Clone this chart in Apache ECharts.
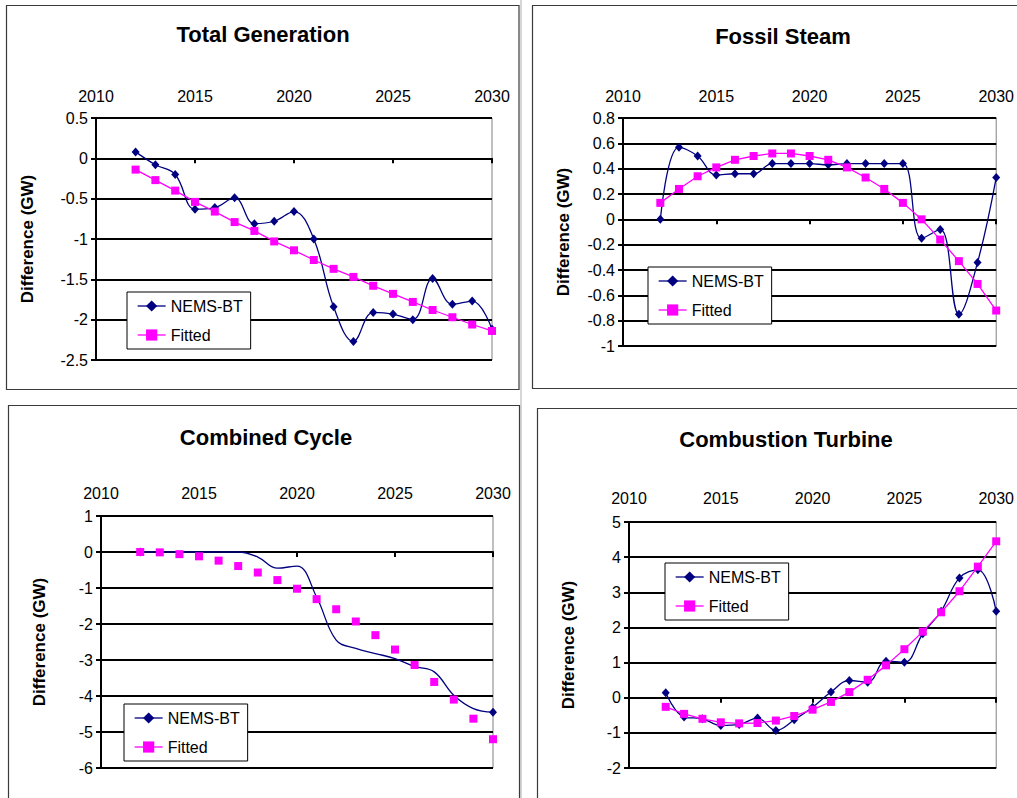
<!DOCTYPE html>
<html>
<head>
<meta charset="utf-8">
<script src="https://cdn.jsdelivr.net/npm/echarts@6/dist/echarts.min.js"></script>
<style>
  html, body { margin: 0; padding: 0; background: #fff; }
  #chart { width: 1017px; height: 798px; }
</style>
</head>
<body>
<div id="chart"></div>
<script>
// Years on the horizontal axis
const years = [2012, 2013, 2014, 2015, 2016, 2017, 2018, 2019, 2020, 2021,
               2022, 2023, 2024, 2025, 2026, 2027, 2028, 2029, 2030];
const xTicks = [2010, 2015, 2020, 2025, 2030];

// Total Generation (GW difference)
const totalNems = [0.08, -0.08, -0.20, -0.63, -0.61, -0.49, -0.81, -0.78, -0.66, -1.00,
                   -1.84, -2.27, -1.91, -1.93, -2.00, -1.49, -1.81, -1.77, -2.12];
const totalFit  = [-0.14, -0.27, -0.40, -0.54, -0.66, -0.79, -0.90, -1.03, -1.14, -1.26,
                   -1.37, -1.47, -1.58, -1.68, -1.78, -1.88, -1.97, -2.06, -2.14];

// Fossil Steam
const fossilNems = [0.00, 0.57, 0.50, 0.35, 0.36, 0.36, 0.44, 0.44, 0.44, 0.43,
                    0.44, 0.44, 0.44, 0.44, -0.15, -0.08, -0.75, -0.34, 0.33];
const fossilFit  = [0.13, 0.24, 0.34, 0.41, 0.47, 0.50, 0.52, 0.52, 0.50, 0.47,
                    0.41, 0.33, 0.24, 0.13, 0.00, -0.16, -0.33, -0.51, -0.72];

// Combined Cycle
const ccNems = [0.00, 0.00, 0.00, 0.00, 0.00, 0.00, -0.14, -0.45, -0.39, -1.25,
                -2.45, -2.68, -2.82, -2.96, -3.18, -3.33, -3.98, -4.35, -4.45];
const ccFit  = [0.00, -0.01, -0.06, -0.12, -0.24, -0.39, -0.57, -0.78, -1.02, -1.31,
                -1.59, -1.93, -2.31, -2.71, -3.14, -3.61, -4.10, -4.63, -5.20];

// Combustion Turbine
const ctNems = [0.14, -0.55, -0.60, -0.79, -0.76, -0.58, -0.93, -0.63, -0.27, 0.16,
                0.49, 0.44, 1.04, 1.01, 1.82, 2.46, 3.41, 3.64, 2.46];
const ctFit  = [-0.26, -0.46, -0.60, -0.70, -0.73, -0.72, -0.65, -0.52, -0.34, -0.12,
                0.16, 0.51, 0.92, 1.38, 1.88, 2.43, 3.03, 3.73, 4.45];

const titles = ['Total Generation', 'Fossil Steam', 'Combined Cycle', 'Combustion Turbine'];
const yRanges = [[-2.5, 0.5, 0.5], [-1, 0.8, 0.2], [-6, 1, 1], [-2, 5, 1]];
const seriesNames = ['NEMS-BT', 'Fitted'];
const yName = 'Difference (GW)';

const FONT = "'Liberation Sans', Arial, Helvetica, sans-serif";
const NAVY = '#000080';
const MAGENTA = '#FF00FF';

// Panel placement on the page
const layout = [
  { frame: [6.5, 5.5, 512.5, 384], grid: { left: 96, top: 118, width: 396, height: 242 },
    title: [263, 34], legend: [127, 292], nameGap: 60, labelMargin: 14 },
  { frame: [532.5, 5.5, 500, 383], grid: { left: 623, top: 118, width: 378, height: 228 },
    title: [783, 36], legend: [648, 267], nameGap: 51, labelMargin: 14 },
  { frame: [8.5, 405.5, 511, 400], grid: { left: 101, top: 516, width: 392, height: 252 },
    title: [266, 437], legend: [124, 704], nameGap: 53, labelMargin: 15 },
  { frame: [537.5, 408.5, 500, 400], grid: { left: 629, top: 522, width: 373, height: 246 },
    title: [786, 439], legend: [665, 563], nameGap: 52, labelMargin: 16 }
];

const panelData = [
  [totalNems, totalFit],
  [fossilNems, fossilFit],
  [ccNems, ccFit],
  [ctNems, ctFit]
];

const pairs = (vals) => years.map((y, i) => [y, vals[i]]);

const grids = [], xAxes = [], yAxes = [], series = [], legends = [], graphics = [];

// thin separator line left of the right-hand panels
graphics.push({
  type: 'line', shape: { x1: 521, y1: 0, x2: 521, y2: 798 },
  style: { stroke: '#c8c8c8', lineWidth: 1.5 }, z: -10
});

layout.forEach((L, i) => {
  const [fx, fy, fw, fh] = L.frame;
  graphics.push({
    type: 'rect', shape: { x: fx, y: fy, width: fw, height: fh },
    style: { fill: null, stroke: '#3a3a3a', lineWidth: 1.2 }, z: -5
  });
  graphics.push({
    type: 'text', x: L.title[0], y: L.title[1],
    style: { text: titles[i], fill: '#000', font: 'bold 22px ' + FONT,
             textAlign: 'center', textVerticalAlign: 'middle' }
  });

  grids.push(Object.assign({ show: true, borderColor: '#808080', borderWidth: 1,
                             backgroundColor: 'transparent', containLabel: false }, L.grid));

  // labels along the top
  xAxes.push({
    gridIndex: i, type: 'value', position: 'top', min: 2010, max: 2030, interval: 5,
    axisLine: { show: false, onZero: false }, axisTick: { show: false }, splitLine: { show: false },
    axisLabel: { color: '#000', fontSize: 16, fontFamily: FONT, margin: L.labelMargin,
                 formatter: (v) => (xTicks.indexOf(v) >= 0 ? String(v) : '') }
  });
  // axis line through zero with downward ticks
  xAxes.push({
    gridIndex: i, type: 'value', position: 'bottom', min: 2010, max: 2030, interval: 5,
    axisLine: { show: true, onZero: true, lineStyle: { color: '#000', width: 2 } },
    axisTick: { show: true, inside: false, length: 5, lineStyle: { color: '#000', width: 2 } },
    axisLabel: { show: false }, splitLine: { show: false }
  });

  const [ymin, ymax, yint] = yRanges[i];
  yAxes.push({
    gridIndex: i, type: 'value', min: ymin, max: ymax, interval: yint,
    name: yName, nameLocation: 'middle', nameGap: L.nameGap, nameRotate: 90,
    nameTextStyle: { color: '#000', fontSize: 17, fontWeight: 'bold', fontFamily: FONT },
    axisLine: { show: true, onZero: false, lineStyle: { color: '#000', width: 2 } },
    axisTick: { show: true, inside: false, length: 5, lineStyle: { color: '#000', width: 2 } },
    axisLabel: { color: '#000', fontSize: 16, fontFamily: FONT, margin: 8 },
    splitLine: { show: true, lineStyle: { color: '#000', width: 2 } }
  });

  const [nems, fit] = panelData[i];
  const sparseMarkers = (i === 2);
  series.push({
    name: seriesNames[0], type: 'line', xAxisIndex: 2 * i + 1, yAxisIndex: i,
    data: sparseMarkers
      ? pairs(nems).map((p, k) => (k === 0 || k === years.length - 1) ? p : { value: p, symbol: 'none' })
      : pairs(nems),
    smooth: 0.4, symbol: 'diamond', symbolSize: [8, 9], showAllSymbol: true,
    lineStyle: { color: NAVY, width: 1.3 }, itemStyle: { color: NAVY },
    emphasis: { disabled: true }, animation: false, z: 3
  });
  series.push({
    name: seriesNames[1], type: 'line', xAxisIndex: 2 * i + 1, yAxisIndex: i,
    data: pairs(fit), smooth: false, symbol: 'rect', symbolSize: 8, showAllSymbol: true,
    lineStyle: { color: MAGENTA, width: 1.3, opacity: sparseMarkers ? 0 : 1 },
    itemStyle: { color: MAGENTA },
    emphasis: { disabled: true }, animation: false, z: 4
  });

  legends.push({
    orient: 'vertical', left: L.legend[0], top: L.legend[1],
    padding: [6, 8, 6, 10], itemGap: 13, itemWidth: 28, itemHeight: 14,
    borderColor: '#000', borderWidth: 1, backgroundColor: '#fff',
    selectedMode: false,
    textStyle: { color: '#000', fontSize: 16, fontFamily: FONT },
    data: [
      { name: seriesNames[0], itemStyle: { color: NAVY },
        lineStyle: { color: NAVY, width: 1.3, opacity: 1 } },
      { name: seriesNames[1], itemStyle: { color: MAGENTA },
        lineStyle: { color: MAGENTA, width: 1.3, opacity: 1 } }
    ]
  });
});

const chart = echarts.init(document.getElementById('chart'), null, { renderer: 'svg' });
chart.setOption({
  backgroundColor: '#fff',
  animation: false,
  textStyle: { fontFamily: FONT },
  grid: grids,
  xAxis: xAxes,
  yAxis: yAxes,
  legend: legends,
  series: series,
  graphic: graphics
});
</script>
</body>
</html>
